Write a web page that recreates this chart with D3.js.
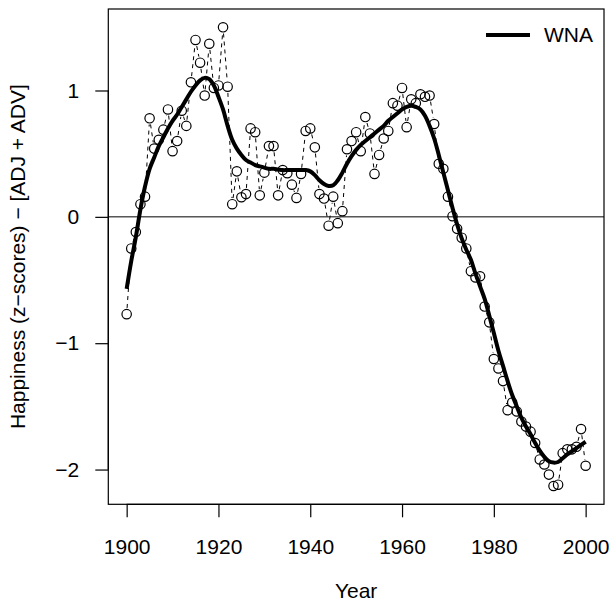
<!DOCTYPE html>
<html>
<head>
<meta charset="utf-8">
<script src="https://cdn.jsdelivr.net/npm/d3@7"></script>
<style>
  html, body { margin: 0; padding: 0; background: #fff; }
  svg { display: block; }
  text { font-family: "Liberation Sans", Arial, Helvetica, sans-serif; fill: #000; }
</style>
</head>
<body>
<script>
// ---- data ----
const startYear = 1900;
const happiness = [
  -0.77, -0.25, -0.12, 0.10, 0.16, 0.78, 0.54, 0.61, 0.69, 0.85,
  0.52, 0.60, 0.84, 0.72, 1.065, 1.40, 1.22, 0.96, 1.37, 1.02,
  1.04, 1.50, 1.03, 0.10, 0.36, 0.155, 0.18, 0.70, 0.67, 0.17,
  0.35, 0.56, 0.56, 0.17, 0.37, 0.345, 0.255, 0.15, 0.34, 0.68,
  0.70, 0.55, 0.18, 0.145, -0.07, 0.16, -0.05, 0.045, 0.535, 0.60,
  0.67, 0.52, 0.79, 0.66, 0.34, 0.49, 0.62, 0.68, 0.90, 0.88,
  1.02, 0.71, 0.93, 0.90, 0.97, 0.95, 0.96, 0.735, 0.42, 0.38,
  0.16, 0.005, -0.095, -0.165, -0.25, -0.43, -0.48, -0.47, -0.71, -0.835,
  -1.125, -1.20, -1.30, -1.53, -1.47, -1.54, -1.62, -1.66, -1.70, -1.79,
  -1.92, -1.96, -2.04, -2.13, -2.12, -1.87, -1.84, -1.84, -1.82, -1.68,
  -1.97
];
const smoothed = [
  -0.57, -0.35, -0.16, 0.06, 0.24, 0.38, 0.47, 0.56, 0.63, 0.70,
  0.76, 0.81, 0.87, 0.93, 0.99, 1.04, 1.08, 1.10, 1.09, 1.04,
  0.95, 0.85, 0.72, 0.61, 0.54, 0.49, 0.45, 0.43, 0.41, 0.40,
  0.39, 0.38, 0.38, 0.375, 0.37, 0.37, 0.37, 0.37, 0.37, 0.37,
  0.36, 0.33, 0.29, 0.26, 0.245, 0.25, 0.29, 0.35, 0.42, 0.48,
  0.53, 0.57, 0.60, 0.63, 0.66, 0.69, 0.72, 0.76, 0.79, 0.82,
  0.85, 0.87, 0.88, 0.87, 0.85, 0.80, 0.72, 0.62, 0.49, 0.35,
  0.21, 0.07, -0.06, -0.17, -0.26, -0.34, -0.45, -0.55, -0.65, -0.78,
  -0.92, -1.06, -1.18, -1.30, -1.41, -1.50, -1.59, -1.66, -1.72, -1.79,
  -1.85, -1.90, -1.935, -1.945, -1.94, -1.91, -1.88, -1.855, -1.83, -1.805,
  -1.78
];
const xTicks = [1900, 1920, 1940, 1960, 1980, 2000];
const yTicks = [-2, -1, 0, 1];
const legendLabel = "WNA";
const xLabel = "Year";
const yLabel = "Happiness (z\u2212scores) \u2212 [ADJ + ADV]";

const points = happiness.map((v, i) => ({ year: startYear + i, v }));
const smoothPts = smoothed.map((v, i) => ({ year: startYear + i, v }));

// ---- layout ----
const W = 611, H = 608;
const plot = { left: 108.3, right: 604, top: 9, bottom: 504.3 };
const fs = 21;
const tickLen = 13;

const x = d3.scaleLinear().domain([1896, 2004]).range([plot.left, plot.right]);
const y = d3.scaleLinear().domain([-2.275, 1.645]).range([plot.bottom, plot.top]);

const svg = d3.select("body").append("svg").attr("width", W).attr("height", H);

// zero line
svg.append("line")
  .attr("x1", plot.left).attr("x2", plot.right)
  .attr("y1", y(0)).attr("y2", y(0))
  .attr("stroke", "#000").attr("stroke-width", 1);

// dashed connecting segments (type = "b")
const r = 4.7;
const gap = r + 1.5;
const segs = [];
for (let i = 0; i < points.length - 1; i++) {
  const a = points[i], b = points[i + 1];
  const x1 = x(a.year), y1 = y(a.v), x2 = x(b.year), y2 = y(b.v);
  const dx = x2 - x1, dy = y2 - y1, len = Math.hypot(dx, dy);
  if (len > 2 * gap) {
    const ux = dx / len, uy = dy / len;
    segs.push([x1 + ux * gap, y1 + uy * gap, x2 - ux * gap, y2 - uy * gap]);
  }
}
svg.append("g").selectAll("line").data(segs).join("line")
  .attr("x1", d => d[0]).attr("y1", d => d[1])
  .attr("x2", d => d[2]).attr("y2", d => d[3])
  .attr("stroke", "#000").attr("stroke-width", 1)
  .attr("stroke-dasharray", "4,4");

// points
svg.append("g").selectAll("circle").data(points).join("circle")
  .attr("cx", d => x(d.year)).attr("cy", d => y(d.v)).attr("r", r)
  .attr("fill", "none").attr("stroke", "#000").attr("stroke-width", 1.2);

// smooth line
svg.append("path").datum(smoothPts)
  .attr("d", d3.line().x(d => x(d.year)).y(d => y(d.v)).curve(d3.curveCatmullRom))
  .attr("fill", "none").attr("stroke", "#000").attr("stroke-width", 4)
  .attr("stroke-linejoin", "round");

// box
svg.append("rect")
  .attr("x", plot.left).attr("y", plot.top)
  .attr("width", plot.right - plot.left).attr("height", plot.bottom - plot.top)
  .attr("fill", "none").attr("stroke", "#000").attr("stroke-width", 1.2);

// x axis
const xAxis = d3.axisBottom(x).tickValues(xTicks).tickSize(tickLen).tickPadding(22)
  .tickFormat(d3.format("d"));
const gx = svg.append("g").attr("transform", `translate(0,${plot.bottom})`).call(xAxis);
gx.select(".domain").attr("d", `M${x(1900)},0H${x(2000)}`).attr("stroke-width", 1.2);
gx.selectAll(".tick line").attr("stroke-width", 1.2);
gx.selectAll("text").attr("font-size", fs).attr("font-family", "Liberation Sans, Arial, sans-serif");

// y axis
const yAxis = d3.axisLeft(y).tickValues(yTicks).tickSize(tickLen).tickPadding(16)
  .tickFormat(d => d < 0 ? "\u2212" + Math.abs(d) : String(d));
const gy = svg.append("g").attr("transform", `translate(${plot.left},0)`).call(yAxis);
gy.select(".domain").attr("d", `M0,${y(-2)}V${y(1)}`).attr("stroke-width", 1.2);
gy.selectAll(".tick line").attr("stroke-width", 1.2);
gy.selectAll("text").attr("font-size", fs).attr("font-family", "Liberation Sans, Arial, sans-serif");

// axis titles
svg.append("text")
  .attr("x", (plot.left + plot.right) / 2).attr("y", 598)
  .attr("text-anchor", "middle").attr("font-size", fs)
  .text(xLabel);
svg.append("text")
  .attr("transform", `translate(25,${(plot.top + plot.bottom) / 2}) rotate(-90)`)
  .attr("text-anchor", "middle").attr("font-size", fs)
  .text(yLabel);

// legend
svg.append("line")
  .attr("x1", 486).attr("x2", 530).attr("y1", 35).attr("y2", 35)
  .attr("stroke", "#000").attr("stroke-width", 4);
svg.append("text")
  .attr("x", 544).attr("y", 35).attr("dy", "0.35em")
  .attr("font-size", fs).text(legendLabel);
</script>
</body>
</html>
